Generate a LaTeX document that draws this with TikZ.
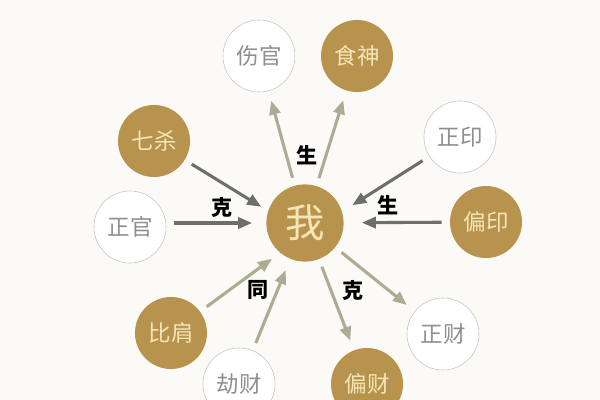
\documentclass[tikz,border=0pt]{standalone}
\usepackage{fontspec}
\newfontfamily\cjk{Noto Sans CJK SC}
\usetikzlibrary{arrows.meta}
\definecolor{gold}{HTML}{B8934E}
\definecolor{cream}{HTML}{F5E6B8}
\definecolor{ring}{HTML}{C4C4C4}
\definecolor{softtext}{HTML}{8F8F8F}
\definecolor{darkarrow}{HTML}{6E6E6E}
\definecolor{lightarrow}{HTML}{ADAC93}
\definecolor{paper}{HTML}{FBFAF7}

\begin{document}
\begin{tikzpicture}[x=0.025cm, y=-0.025cm,
    god/.style={circle, fill=gold, minimum size=1.8cm, inner sep=0pt, text=cream, font=\cjk\fontsize{16}{16}\selectfont},
    plain/.style={circle, draw=ring, fill=white, minimum size=1.8cm, inner sep=0pt, text=softtext, font=\cjk\fontsize{16}{16}\selectfont},
    give/.style={-{Triangle[length=0.35cm,width=0.28cm]}, line width=2.2pt, draw=lightarrow, shorten <=0.2cm, shorten >=0.25cm},
    take/.style={give, draw=darkarrow, shorten >=0.35cm},
    rel/.style={font=\cjk\bfseries\fontsize{15}{15}\selectfont}]
    \useasboundingbox (0,0) rectangle (600,400);
    \fill[paper] (0,0) rectangle (600,400);
    \clip (0,0) rectangle (600,400);

    % centre
    \node[god, minimum size=1.93cm, font=\cjk\fontsize{28}{28}\selectfont] (me) at (305,223) {我};

    % ring of gods
    \node[plain] (shangguan) at (259,56) {伤官};
    \node[god] (shishen) at (357,56) {食神};
    \node[god] (qisha) at (154,141) {七杀};
    \node[plain] (zhengguan) at (130,227) {正官};
    \node[plain] (zhengyin) at (460,137) {正印};
    \node[god] (pianyin) at (486,222) {偏印};
    \node[god] (bijian) at (171,333) {比肩};
    \node[plain] (jiecai) at (239,384) {劫财};
    \node[god] (piancai) at (367,384) {偏财};
    \node[plain] (zhengcai) at (443,334) {正财};

    % arrows
    \draw[give] (me) -- (shangguan);
    \draw[give] (me) -- (shishen);
    \draw[take, shorten >=0.2cm] (qisha) -- (me.162);
    \draw[take] (zhengguan.east |- me) -- (me);
    \draw[take, shorten >=0.3cm] (zhengyin) -- (me.17);
    \draw[take, shorten >=0.45cm] (pianyin) -- (me);
    \draw[give, shorten >=0.25cm] (bijian) -- (me.230);
    \draw[give, shorten >=0.3cm] (jiecai) -- (me);
    \draw[give] (me) -- (piancai);
    \draw[give] (me) -- (zhengcai);

    % relation labels
    \node[rel] (sheng1) at (307,155) {生};
    \node[rel] (ke1) at (222,207) {克};
    \node[rel] (sheng2) at (388,205) {生};
    \node[rel] (tong) at (258,290) {同};
    \node[rel] (ke2) at (353,290) {克};
\end{tikzpicture}
\end{document}
